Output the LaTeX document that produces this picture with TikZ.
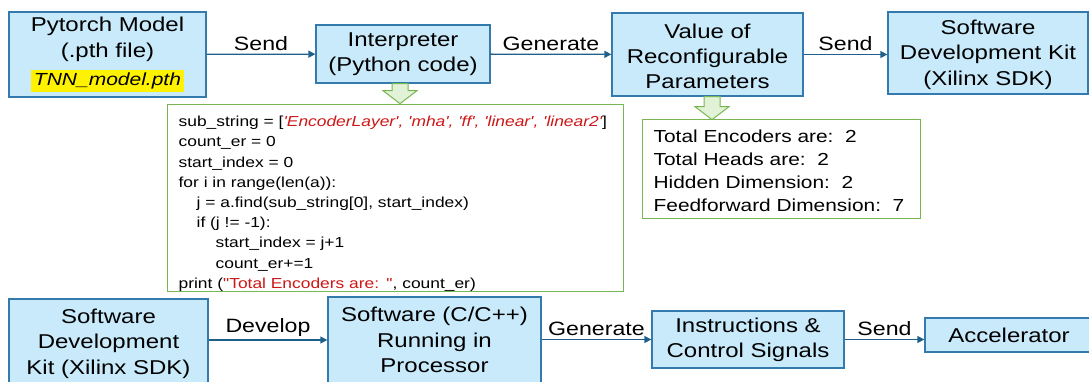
\documentclass[tikz,border=0pt]{standalone}
\usepackage{fontspec}
\setmainfont{Liberation Sans}[FakeStretch=1.2]
\newfontfamily\codefont{Liberation Sans}[FakeStretch=1.2]
\usetikzlibrary{arrows.meta}
\definecolor{boxfill}{RGB}{200,234,250}
\definecolor{boxline}{RGB}{52,122,172}
\definecolor{flowblue}{RGB}{30,96,138}
\definecolor{codegreen}{RGB}{120,182,82}
\definecolor{greenfill}{RGB}{226,242,214}
\definecolor{codered}{RGB}{205,22,22}
\begin{document}
\begin{tikzpicture}[x=1pt, y=-1pt,
  blk/.style={draw=boxline, fill=boxfill, line width=1.3pt, align=center, inner sep=0pt, font=\fontsize{20}{25.3}\selectfont},
  flow/.style={draw=flowblue, line width=1.3pt, -{Triangle[length=7pt,width=7pt]}},
  lbl/.style={above, inner sep=3pt, font=\fontsize{19.3}{23}\selectfont},
  txtbox/.style={draw=codegreen, line width=1.3pt, anchor=north west, align=left, inner xsep=11pt, inner ysep=0pt},
  fatarrow/.style={draw=codegreen, fill=greenfill, line width=1pt}]
\useasboundingbox (0,0) rectangle (1089,381);
\clip (0,0) rectangle (1089,381);
\node[blk, minimum width=197, minimum height=85] (model) at (107.5,54.5) {Pytorch Model\\(.pth file)\\[3pt]{\setlength\fboxsep{2.5pt}\colorbox{yellow}{\fontsize{17.5}{20}\selectfont\itshape TNN\_model.pth}}};
\node[blk, minimum width=174, minimum height=58] (interp) at (403,54) {Interpreter\\(Python code)};
\node[blk, minimum width=191, minimum height=83] (value) at (707.5,54.5) {\rule{0pt}{18pt}Value of\\Reconfigurable\\Parameters};
\node[blk, minimum width=200, minimum height=82] (sdk) at (988,53) {\rule{0pt}{18pt}Software\\Development Kit\\(Xilinx SDK)};
\draw[flow] (model) -- node[lbl] {Send} (interp);
\draw[flow] (interp) -- node[lbl] {Generate} (value);
\draw[flow] (value.east) -- node[lbl] {Send} (value.east -| sdk.west);
\node[txtbox, text width=434, minimum height=184, font=\codefont\fontsize{14.5}{20.2}\selectfont] (code) at (167,104) {\rule{0pt}{22pt}sub\_string = [{\color{codered}\itshape 'EncoderLayer', 'mha', 'ff', 'linear', 'linear2'}]\\
count\_er = 0\\
start\_index = 0\\
for i in range(len(a)):\\
\hspace*{18pt}j = a.find(sub\_string[0], start\_index)\\
\hspace*{18pt}if (j != -1):\\
\hspace*{37pt}start\_index = j+1\\
\hspace*{37pt}count\_er+=1\\
print ({\color{codered}"Total Encoders are: "}, count\_er)};
\node[txtbox, text width=256, minimum height=99, font=\fontsize{17.4}{23}\selectfont] (params) at (642,119) {\rule{0pt}{16pt}Total Encoders are:\ \ 2\\
Total Heads are:\ \ 2\\
Hidden Dimension:\ \ 2\\
Feedforward Dimension:\ \ 7};
\draw[fatarrow] (interp.south) ++(-11,0) -- ++(0,7) -- ++(-9,0) -- ++(17,13) -- ++(17,-13) -- ++(-9,0) -- ++(0,-7) -- cycle;
\draw[fatarrow] (value.south) ++(-3.5,0) -- ++(0,10) -- ++(-9,0) -- ++(17,13) -- ++(17,-13) -- ++(-9,0) -- ++(0,-10) -- cycle;
\node[blk, minimum width=199, minimum height=86] (sdkb) at (108.5,342) {\rule{0pt}{18pt}Software\\Development\\Kit (Xilinx SDK)};
\node[blk, minimum width=213, minimum height=86] (soft) at (434.5,340) {Software (C/C++)\\Running in\\Processor};
\node[blk, minimum width=192, minimum height=57] (instr) at (748,339.5) {Instructions \&\\Control Signals};
\node[blk, minimum width=168, minimum height=34] (accel) at (1009,335) {Accelerator};
\draw[flow] (sdkb.east |- soft.west) -- node[lbl] {Develop} (soft.west);
\draw[flow] (soft.east |- instr.west) -- node[lbl] {Generate} (instr.west);
\draw[flow] (instr.east) -- node[lbl] {Send} (instr.east -| accel.west);
\end{tikzpicture}
\end{document}
